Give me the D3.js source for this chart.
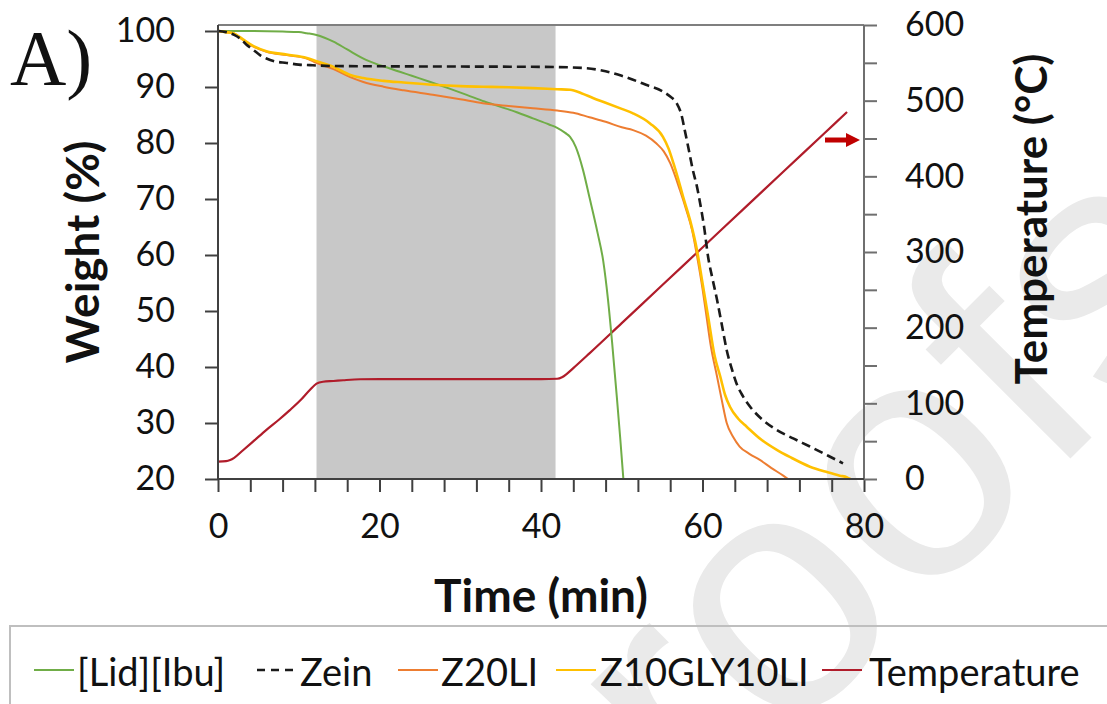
<!DOCTYPE html>
<html><head><meta charset="utf-8">
<script src="https://cdn.jsdelivr.net/npm/d3@7"></script>
<style>body{margin:0;background:#fff}svg{display:block}</style>
</head><body>
<svg id="c" width="1107" height="704"></svg>
<script>
// ---------- data ----------
const timeTickLabels = [0, 20, 40, 60, 80];
const weightTickLabels = [20, 30, 40, 50, 60, 70, 80, 90, 100];
const tempTickLabels = [0, 100, 200, 300, 400, 500, 600];
const isothermalWindow = [12.2, 41.8];   // shaded region (min)
const arrowTemp = 448;                   // red arrow pointing to right axis

const lidIbuTime   = [0,4,8,10,11,12.2,13.2,14.3,16,18.4,21.3,24,26.3,28.5,30.8,33,34.9,37,39,41,42,43,43.6,44.3,45.2,46,47,47.7,48.3,48.8,49.4,49.8,50.2];
const lidIbuWeight = [100,100,99.9,99.8,99.6,99.3,98.8,98.1,96.7,94.8,93.3,92,90.9,89.8,88.6,87.4,86.5,85.5,84.4,83.3,82.7,81.8,81.1,79.3,75.2,70.3,64,59,52,44.5,34.5,27.5,20];

const zeinTime   = [0,1,2,2.7,3.5,4.4,5.2,6,7,8.5,10,11.4,14.3,20,30,40,45.2,48,50,51.4,53,55.1,56,56.8,57.4,57.8,58.3,58.8,59.3,59.7,60.2,60.7,61.2,61.8,62.4,63,63.6,64.2,65,65.9,67.5,69.2,71.3,73.3,75.5,77.4];
const zeinWeight = [100,99.8,99.3,98.7,97.6,96.6,95.7,95.1,94.6,94.3,94.0,93.9,93.75,93.7,93.65,93.6,93.4,92.8,92.0,91.3,90.4,89.2,88.3,87.1,85,82.3,78.8,75.2,72.3,69.3,65,59.6,56,52,47.5,43,39.8,37.1,34.8,32.9,30.5,28.75,27.2,25.8,24.2,22.8];

const z20Time   = [0,1,1.9,3.1,4.4,6,8.5,11,12.2,14.3,16.3,18,20.5,23,26.6,30,32.8,36,39,42,44,46,48,50,51.4,53,54.3,55.2,56,57.2,58,58.7,59.3,60,60.5,61,61.8,62.4,63,63.8,64.6,65.8,67.1,68.5,70,70.6];
const z20Weight = [100,99.8,99.6,98.4,97.2,96.3,95.7,95.1,94.3,93.2,91.8,90.9,90.05,89.4,88.6,87.8,87.1,86.6,86.2,85.8,85.4,84.6,83.8,82.8,82.3,81.3,79.9,78.5,76.4,71.6,68,64.5,60,54,49,44,38.3,34,30,27.5,25.8,24.5,23.4,22,20.6,20];

const z10Time   = [0,1,1.9,3.1,4.4,6,8.5,11,12.2,14.3,16.3,18,20.5,23,26.6,30,32.8,36,39,42,43.6,45,46.5,48,50,51.4,53.5,55.1,55.8,56.4,57,57.6,58.5,59.3,60,60.7,61.5,62.2,62.8,63.4,64.4,65.5,67.3,69.2,71,73.3,75.5,77,77.9,78.3];
const z10Weight = [100,99.8,99.6,98.5,97.3,96.4,95.8,95.2,94.6,93.6,92.2,91.6,91.1,90.8,90.4,90.15,90.05,89.95,89.8,89.6,89.5,88.9,88,87.2,86.1,85.3,83.5,81.1,79,76.4,73.5,70.4,66,61,55,49,42,38.3,35,32.9,30.8,29.3,27,25.2,23.8,22.2,21.2,20.6,20.3,20];

const tempTime  = [0,1,1.5,2,3.1,4.5,6,7.5,8.9,10.2,11.4,12.2,13,14.3,15.5,17.6,20,25,30,35,40,42,42.6,43.2,44,46,50,55,60,65,70,75,77.9];
const tempValue = [22.9,23.5,25,28,38,51,65,78,91,104,118,126,128.5,129.5,130.5,131.8,132,132,132,132,132,132.5,134.5,139,146.5,166,206,256,306,356,406,456,485];

const seriesNames  = ["[Lid][Ibu]", "Zein", "Z20LI", "Z10GLY10LI", "Temperature"];
const seriesColors = ["#70ad47", "#1a1a1a", "#ed7d31", "#ffc000", "#b01c2a"];

// ---------- drawing ----------
const svg = d3.select("#c");
const FONT = "Lato, 'Open Sans', sans-serif";

const x  = d3.scaleLinear().domain([0, 80]).range([218, 864]);
const yL = d3.scaleLinear().domain([20, 100]).range([479, 31]);
const yR = d3.scaleLinear().domain([0, 600]).range([479, 25]);
const plotTop = 25;

// watermark (journal pre-proof stamp, partly outside the page)
svg.append("text").attr("transform", "translate(568,961) rotate(-45)")
  .attr("font-family", "'Liberation Sans', Arial, sans-serif").attr("font-size", 340)
  .attr("fill", "#eaeaea").text("proofs");

// shaded isothermal region
svg.append("rect")
  .attr("x", x(isothermalWindow[0])).attr("y", plotTop)
  .attr("width", x(isothermalWindow[1]) - x(isothermalWindow[0]))
  .attr("height", yL(20) - plotTop).attr("fill", "#c8c8c8");

// series
const line = (xs, ys, yscale) => d3.line().curve(d3.curveMonotoneX)
  .x((d, i) => x(xs[i])).y((d, i) => yscale(ys[i]))(xs);

const draw = (xs, ys, yscale, color, w, dash) => {
  const p = svg.append("path").attr("d", line(xs, ys, yscale))
    .attr("fill", "none").attr("stroke", color).attr("stroke-width", w)
    .attr("stroke-linejoin", "round");
  if (dash) p.attr("stroke-dasharray", dash);
};
draw(tempTime, tempValue, yR, seriesColors[4], 2.2);
draw(lidIbuTime, lidIbuWeight, yL, seriesColors[0], 2);
draw(z20Time, z20Weight, yL, seriesColors[2], 2);
draw(z10Time, z10Weight, yL, seriesColors[3], 2.6);
draw(zeinTime, zeinWeight, yL, seriesColors[1], 2.6, "9,5");

// frame
svg.append("line").attr("x1", x(0)).attr("x2", x(80)).attr("y1", plotTop).attr("y2", plotTop)
  .attr("stroke", "#7f7f7f").attr("stroke-width", 2);
svg.append("line").attr("x1", x(0)).attr("x2", x(0)).attr("y1", plotTop).attr("y2", yL(20))
  .attr("stroke", "#404040").attr("stroke-width", 2);
svg.append("line").attr("x1", x(80)).attr("x2", x(80)).attr("y1", plotTop).attr("y2", yL(20))
  .attr("stroke", "#6f6f6f").attr("stroke-width", 2);
svg.append("line").attr("x1", x(0)).attr("x2", x(80)).attr("y1", yL(20)).attr("y2", yL(20))
  .attr("stroke", "#404040").attr("stroke-width", 2);

// axes
function style(g, col) {
  g.select(".domain").remove();
  g.selectAll(".tick line").attr("stroke", col).attr("stroke-width", 2);
  g.selectAll(".tick text").attr("font-family", FONT).attr("font-size", 34).attr("fill", "#111");
}
const xAxis = d3.axisBottom(x).tickValues(d3.range(0, 81, 4))
  .tickFormat(d => timeTickLabels.includes(d) ? d : "").tickSize(13).tickPadding(22);
svg.append("g").attr("transform", `translate(0,${yL(20)})`).call(xAxis).call(g => style(g, "#404040"));

const yAxisL = d3.axisLeft(yL).tickValues(weightTickLabels).tickSize(13).tickPadding(30);
svg.append("g").attr("transform", `translate(${x(0)},0)`).call(yAxisL).call(g => style(g, "#404040"));

const yAxisR = d3.axisRight(yR).tickValues(d3.range(0, 601, 50))
  .tickFormat(d => tempTickLabels.includes(d) ? d : "").tickSize(13).tickPadding(28);
svg.append("g").attr("transform", `translate(${x(80)},0)`).call(yAxisR).call(g => style(g, "#6f6f6f"));

// arrow
const ay = yR(arrowTemp);
svg.append("line").attr("x1", 825).attr("x2", 848).attr("y1", ay).attr("y2", ay)
  .attr("stroke", "#c00000").attr("stroke-width", 5);
svg.append("path").attr("d", `M846,${ay - 7}L860,${ay}L846,${ay + 7}Z`).attr("fill", "#c00000");

// titles
svg.append("text").attr("x", 541).attr("y", 612).attr("text-anchor", "middle")
  .attr("font-family", FONT).attr("font-weight", 700).attr("font-size", 46).attr("fill", "#111")
  .text("Time (min)");
svg.append("text").attr("transform", "translate(99,252) rotate(-90)").attr("text-anchor", "middle")
  .attr("font-family", FONT).attr("font-weight", 700).attr("font-size", 46).attr("fill", "#111")
  .text("Weight (%)");
svg.append("text").attr("transform", "translate(1047,219) rotate(-90)").attr("text-anchor", "middle")
  .attr("font-family", FONT).attr("font-weight", 700).attr("font-size", 44).attr("fill", "#111")
  .text("Temperature (°C)");
svg.append("text").attr("x", 10).attr("y", 84)
  .attr("font-family", "'Liberation Serif', 'Times New Roman', serif").attr("font-size", 78).attr("fill", "#111")
  .text("A)");

// legend
svg.append("rect").attr("x", 10).attr("y", 626).attr("width", 1120).attr("height", 110)
  .attr("fill", "none").attr("stroke", "#bfbfbf").attr("stroke-width", 2);
const legendLineX = [34, 257, 398, 556, 822];
const legendTextX = [77, 300, 441, 600, 869];
seriesNames.forEach((name, i) => {
  const l = svg.append("line").attr("x1", legendLineX[i]).attr("x2", legendLineX[i] + 40)
    .attr("y1", 670).attr("y2", 670).attr("stroke", seriesColors[i]).attr("stroke-width", i === 1 ? 2.4 : 2);
  if (i === 1) l.attr("stroke-dasharray", "8,6").attr("x2", legendLineX[i] + 38);
  svg.append("text").attr("x", legendTextX[i]).attr("y", 686)
    .attr("font-family", FONT).attr("font-size", 38).attr("fill", "#111").text(name);
});
</script>
</body></html>
